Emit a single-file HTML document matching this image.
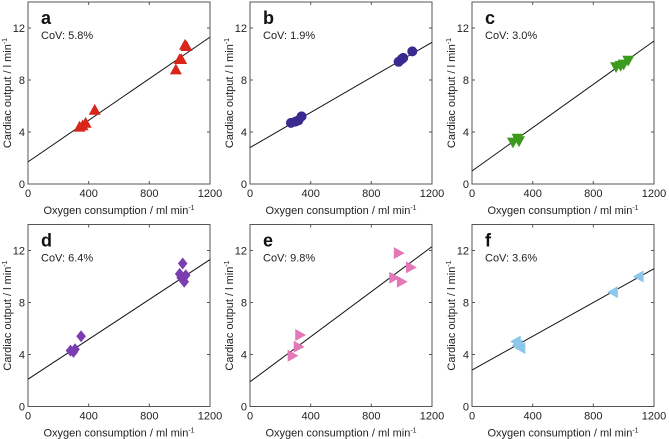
<!DOCTYPE html>
<html><head><meta charset="utf-8"><style>
body{margin:0;background:#fff}
svg{display:block;font-family:"Liberation Sans",Arial,sans-serif}
</style></head><body>
<svg id="chart" width="669" height="439"></svg>
<script>
const panelLetters=["a","b","c","d","e","f"];
const covLabels=["CoV: 5.8%","CoV: 1.9%","CoV: 3.0%","CoV: 6.4%","CoV: 9.8%","CoV: 3.6%"];
const colors=["#d8261c","#3a2a90","#3c9a1c","#7a3eb0","#e278b8","#8cc6ea"];
const markers=["up","circle","down","diamond","right","left"];
const xTicks=[0,400,800,1200];
const yTicks=[0,4,8,12];
const ptsX=[
 [340,360,380,440,975,1000,1010,1045,1035],
 [270,300,320,340,980,1000,1010,1070],
 [270,300,310,950,980,1000,1030],
 [280,300,310,350,1000,1020,1030,1040,1010],
 [280,320,330,950,980,1000,1060],
 [290,300,320,930,1100]];
const ptsY=[
 [4.4,4.5,4.7,5.7,8.8,9.6,9.6,10.6,10.7],
 [4.7,4.8,4.9,5.2,9.4,9.6,9.7,10.2],
 [3.2,3.5,3.3,9.0,9.1,9.2,9.5],
 [4.3,4.2,4.4,5.4,10.2,11.0,9.6,10.1,9.9],
 [3.9,4.6,5.5,9.9,11.8,9.6,10.7],
 [5.0,4.7,4.5,8.8,10.0]];
const fitIntercept=[1.7,2.8,1.0,2.1,1.9,2.8];
const fitAt1200=[11.3,10.9,11.0,11.3,12.3,10.6];

const NS="http://www.w3.org/2000/svg";
const svg=document.getElementById("chart");
function mk(tag,attrs,parent){const e=document.createElementNS(NS,tag);for(const k in attrs)e.setAttribute(k,attrs[k]);(parent||svg).appendChild(e);return e;}
const W=182,H=182,XMAX=1200,YMAX=14;
for(let p=0;p<6;p++){
 const col=p%3,row=Math.floor(p/3);
 const x0=28+col*222,y0=184+row*222.5,top=y0-H;
 const sx=v=>x0+v/XMAX*W, sy=v=>y0-v/YMAX*H;
 const g=mk("g",{});
 
 
 const fr=mk("rect",{x:x0,y:top,width:W,height:H,fill:"none",stroke:"#555","stroke-width":1},g);
 
 
 xTicks.forEach(t=>{
  mk("line",{x1:sx(t),x2:sx(t),y1:y0,y2:y0-3,stroke:"#555"},g);
  mk("line",{x1:sx(t),x2:sx(t),y1:top,y2:top+3,stroke:"#555"},g);
  const tx=mk("text",{x:sx(t),y:y0+13,"font-size":11,"text-anchor":"middle",fill:"#222"},g);tx.textContent=t;
  
  
 });
 yTicks.forEach(t=>{
  mk("line",{x1:x0,x2:x0+3,y1:sy(t),y2:sy(t),stroke:"#555"},g);
  mk("line",{x1:x0+W,x2:x0+W-3,y1:sy(t),y2:sy(t),stroke:"#555"},g);
  const ty=mk("text",{x:x0-3,y:sy(t)+4,"font-size":11,"text-anchor":"end",fill:"#222"},g);ty.textContent=t;
  
  
 });
 const xt=mk("text",{x:x0+W/2,y:y0+30,"font-size":11,"text-anchor":"middle",fill:"#222"},g);
 xt.innerHTML='Oxygen consumption / ml min<tspan dy="-4" font-size="7">-1</tspan>';
 
 
 const yt=mk("text",{transform:`translate(${x0-17},${top+H/2}) rotate(-90)`,"font-size":11,"text-anchor":"middle",fill:"#222"},g);
 yt.innerHTML='Cardiac output / l min<tspan dy="-4" font-size="7">-1</tspan>';
 
 
 const lt=mk("text",{x:x0+13,y:top+22,"font-size":18,"font-weight":"bold",fill:"#111"},g);lt.textContent=panelLetters[p];
 
 
 const cv=mk("text",{x:x0+13,y:top+37,"font-size":11,fill:"#222"},g);cv.textContent=covLabels[p];
 
 
 const ln=mk("line",{x1:sx(0),y1:sy(fitIntercept[p]),x2:sx(1200),y2:sy(fitAt1200[p]),stroke:"#111","stroke-width":1},g);
 
 
 for(let i=0;i<ptsX[p].length;i++){
  const cx=sx(ptsX[p][i]),cy=sy(ptsY[p][i]),r=6,c=colors[p];let m;
  switch(markers[p]){
   case "circle":m=mk("circle",{cx,cy,r:5,fill:c},g);break;
   case "up":m=mk("polygon",{points:`${cx},${cy-r} ${cx-r},${cy+r*0.8} ${cx+r},${cy+r*0.8}`,fill:c},g);break;
   case "down":m=mk("polygon",{points:`${cx},${cy+r} ${cx-r},${cy-r*0.8} ${cx+r},${cy-r*0.8}`,fill:c},g);break;
   case "right":m=mk("polygon",{points:`${cx+r},${cy} ${cx-r*0.8},${cy-r} ${cx-r*0.8},${cy+r}`,fill:c},g);break;
   case "left":m=mk("polygon",{points:`${cx-r},${cy} ${cx+r*0.8},${cy-r} ${cx+r*0.8},${cy+r}`,fill:c},g);break;
   default:m=mk("polygon",{points:`${cx},${cy-r} ${cx+r*0.8},${cy} ${cx},${cy+r} ${cx-r*0.8},${cy}`,fill:c},g);
  }
  
  
 }
}
</script>
</body></html>
